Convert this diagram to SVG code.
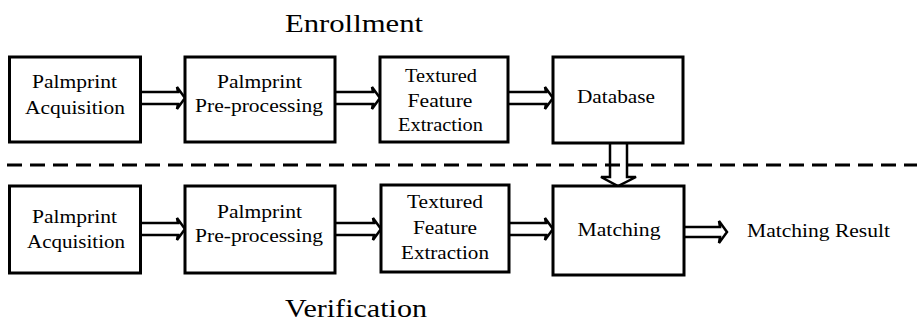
<svg xmlns="http://www.w3.org/2000/svg" width="917" height="326" viewBox="0 0 917 326">
<style>
.box{fill:#fff;stroke:#000;stroke-width:3}
.t{font-family:"Liberation Serif","Times New Roman",serif;font-size:18px;fill:#000;text-anchor:middle}
.title{font-family:"Liberation Serif","Times New Roman",serif;font-size:25px;fill:#000}
.arr{fill:none;stroke:#000;stroke-width:2.5;stroke-linejoin:miter}
.dash{stroke:#000;stroke-width:3;stroke-dasharray:15 8}
</style>
<rect width="917" height="326" fill="#fff"/>
<text class="title" x="285" y="32" textLength="138" lengthAdjust="spacingAndGlyphs">Enrollment</text>
<text class="title" x="285" y="317" textLength="142" lengthAdjust="spacingAndGlyphs">Verification</text>
<g id="connectors">
<line class="dash" x1="7" y1="165" x2="917" y2="165"/>
<path class="arr" d="M141,92 H178 L177,87 L185,98 L177,109 L178,104 H141"/>
<path class="arr" d="M336,92 H373 L372,87 L380,98 L372,109 L373,104 H336"/>
<path class="arr" d="M509,92 H546 L545,87 L553,98 L545,109 L546,104 H509"/>
<path class="arr" d="M610,143 V177 L601,177 L618,186 L636,177 L627,177 V143"/>
<path class="arr" d="M141,223 H178 L177,218 L185,229 L177,240 L178,235 H141"/>
<path class="arr" d="M336,223 H374 L373,218 L381,229 L373,240 L374,235 H336"/>
<path class="arr" d="M510,223 H546 L545,218 L553,229 L545,240 L546,235 H510"/>
<path class="arr" d="M685,227 H720 L719,221 L727,232 L719,243 L720,237 H685"/>
</g>
<g id="e_acq"><rect class="box" x="9.5" y="57" width="131" height="85"/>
<text class="t" x="74.5" y="88" textLength="85" lengthAdjust="spacingAndGlyphs">Palmprint</text>
<text class="t" x="75" y="114" textLength="100" lengthAdjust="spacingAndGlyphs">Acquisition</text></g>
<g id="e_pre"><rect class="box" x="185" y="57" width="150" height="85"/>
<text class="t" x="259.5" y="88" textLength="85" lengthAdjust="spacingAndGlyphs">Palmprint</text>
<text class="t" x="259" y="112" textLength="128" lengthAdjust="spacingAndGlyphs">Pre-processing</text></g>
<g id="e_feat"><rect class="box" x="380" y="57" width="128" height="85"/>
<text class="t" x="441" y="82" textLength="72" lengthAdjust="spacingAndGlyphs">Textured</text>
<text class="t" x="440" y="107" textLength="65" lengthAdjust="spacingAndGlyphs">Feature</text>
<text class="t" x="440.5" y="131" textLength="85" lengthAdjust="spacingAndGlyphs">Extraction</text></g>
<g id="database"><rect class="box" x="553" y="57" width="130" height="86"/>
<text class="t" x="616" y="103" textLength="78" lengthAdjust="spacingAndGlyphs">Database</text></g>
<g id="v_acq"><rect class="box" x="9.5" y="186" width="131" height="87"/>
<text class="t" x="74.5" y="223" textLength="85" lengthAdjust="spacingAndGlyphs">Palmprint</text>
<text class="t" x="76" y="248" textLength="98" lengthAdjust="spacingAndGlyphs">Acquisition</text></g>
<g id="v_pre"><rect class="box" x="185" y="186" width="150" height="87"/>
<text class="t" x="259.5" y="218" textLength="85" lengthAdjust="spacingAndGlyphs">Palmprint</text>
<text class="t" x="259" y="242" textLength="128" lengthAdjust="spacingAndGlyphs">Pre-processing</text></g>
<g id="v_feat"><rect class="box" x="381" y="185" width="128" height="87"/>
<text class="t" x="445" y="208" textLength="76" lengthAdjust="spacingAndGlyphs">Textured</text>
<text class="t" x="445" y="234" textLength="64" lengthAdjust="spacingAndGlyphs">Feature</text>
<text class="t" x="445" y="259" textLength="88" lengthAdjust="spacingAndGlyphs">Extraction</text></g>
<g id="matching"><rect class="box" x="553" y="186" width="131" height="89"/>
<text class="t" x="619" y="236" textLength="83" lengthAdjust="spacingAndGlyphs">Matching</text></g>
<g id="result"><text class="t" x="818.5" y="237" textLength="143" lengthAdjust="spacingAndGlyphs">Matching Result</text></g>
</svg>
